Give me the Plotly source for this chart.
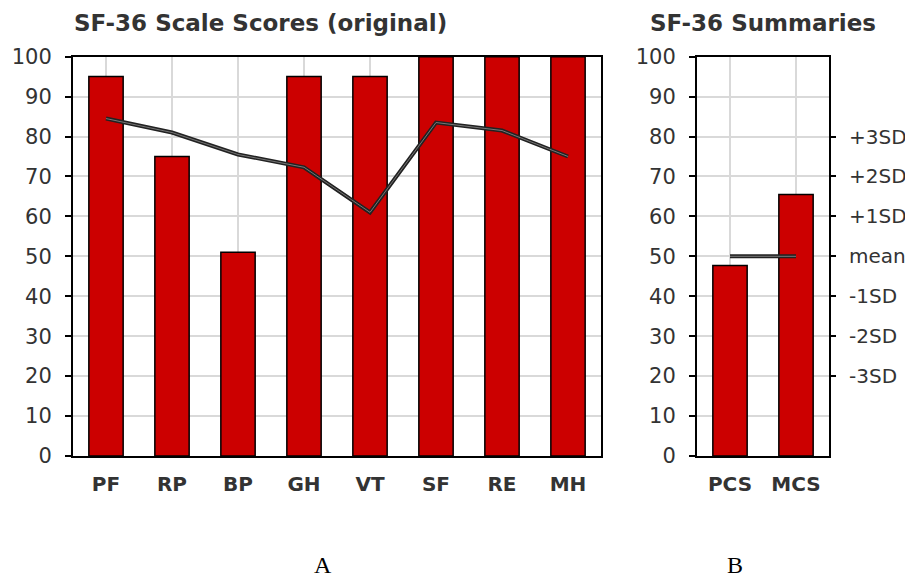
import plotly.graph_objects as go

scales = ["PF", "RP", "BP", "GH", "VT", "SF", "RE", "MH"]
scale_scores = [95, 75, 51, 95, 95, 100, 100, 100]
norm_line = [84.5, 81, 75.5, 72.3, 61, 83.5, 81.5, 75]

summaries = ["PCS", "MCS"]
summary_scores = [47.7, 65.5]
mean_value = [50, 50]

y_ticks = list(range(0, 101, 10))
sd_vals = [80, 70, 60, 50, 40, 30, 20]
sd_labels = ["+3SD", "+2SD", "+1SD", "mean", "-1SD", "-2SD", "-3SD"]

RED = "#cc0000"
TXT = "#333333"
FONT = "DejaVu Sans"


def fy(p):
    return (575.5 - p) / 556.3


def fx(p):
    return (p - 8) / 913


fig = go.Figure()
fig.add_trace(go.Bar(x=scales, y=scale_scores, width=0.52,
                     marker=dict(color=RED, line=dict(color="black", width=1.5)),
                     xaxis="x", yaxis="y", showlegend=False))
fig.add_trace(go.Scatter(x=scales, y=norm_line, mode="lines",
                         line=dict(color="#222222", width=4),
                         xaxis="x", yaxis="y", showlegend=False))
fig.add_trace(go.Scatter(x=scales, y=norm_line, mode="lines",
                         line=dict(color="#777777", width=1),
                         xaxis="x", yaxis="y", showlegend=False))
fig.add_trace(go.Bar(x=summaries, y=summary_scores, width=0.52,
                     marker=dict(color=RED, line=dict(color="black", width=1.5)),
                     xaxis="x2", yaxis="y2", showlegend=False))
fig.add_trace(go.Scatter(x=summaries, y=mean_value, mode="lines",
                         line=dict(color="#222222", width=4),
                         xaxis="x2", yaxis="y2", showlegend=False))
fig.add_trace(go.Scatter(x=summaries, y=mean_value, mode="lines",
                         line=dict(color="#777777", width=1),
                         xaxis="x2", yaxis="y2", showlegend=False))
fig.add_trace(go.Scatter(x=summaries, y=[None, None], mode="markers",
                         xaxis="x2", yaxis="y3", showlegend=False, hoverinfo="skip"))

ydom = [fy(457), fy(56)]
common_y = dict(range=[0, 100], tickvals=y_ticks, showgrid=True, gridcolor="#d9d9d9",
                gridwidth=1.5, showline=True, linecolor="black", linewidth=2, mirror=True,
                ticks="outside", ticklen=6, tickcolor="black", tickwidth=1.5,
                ticklabelstandoff=9,
                tickfont=dict(family=FONT, size=21, color=TXT), zeroline=False,
                domain=ydom)
common_x = dict(showgrid=True, gridcolor="#d9d9d9", gridwidth=1.5, showline=True,
                linecolor="black", linewidth=2, mirror=True, ticks="",
                ticklabelstandoff=9,
                tickfont=dict(family=FONT, size=20, color=TXT, weight="bold"))

fig.update_layout(
    width=913, height=578,
    margin=dict(l=0, r=0, t=0, b=0),
    paper_bgcolor="white", plot_bgcolor="white",
    xaxis=dict(domain=[fx(73), fx(601)], anchor="y", range=[-0.5, 7.5], **common_x),
    yaxis=dict(anchor="x", **common_y),
    xaxis2=dict(domain=[fx(697), fx(829)], anchor="y2", range=[-0.5, 1.5], **common_x),
    yaxis2=dict(anchor="x2", **common_y),
    yaxis3=dict(anchor="x2", overlaying="y2", side="right", range=[0, 100],
                tickvals=sd_vals, ticktext=sd_labels, showgrid=False, zeroline=False,
                showline=False, ticks="outside", ticklen=6, tickcolor="black", tickwidth=1.5,
                ticklabelstandoff=9,
                tickfont=dict(family=FONT, size=20, color=TXT)),
    annotations=[
        dict(text="<b>SF-36 Scale Scores (original)</b>", x=fx(72), y=fy(22),
             xref="paper", yref="paper", xanchor="left", yanchor="middle", showarrow=False,
             font=dict(family=FONT, size=23, color=TXT)),
        dict(text="<b>SF-36 Summaries</b>", x=fx(763), y=fy(22),
             xref="paper", yref="paper", xanchor="center", yanchor="middle", showarrow=False,
             font=dict(family=FONT, size=23, color=TXT)),
        dict(text="A", x=fx(323), y=fy(566), xref="paper", yref="paper",
             xanchor="center", yanchor="middle", showarrow=False,
             font=dict(family="Liberation Serif", size=24, color="black")),
        dict(text="B", x=fx(735), y=fy(566), xref="paper", yref="paper",
             xanchor="center", yanchor="middle", showarrow=False,
             font=dict(family="Liberation Serif", size=24, color="black")),
    ],
)

fig.write_html("out.html")
